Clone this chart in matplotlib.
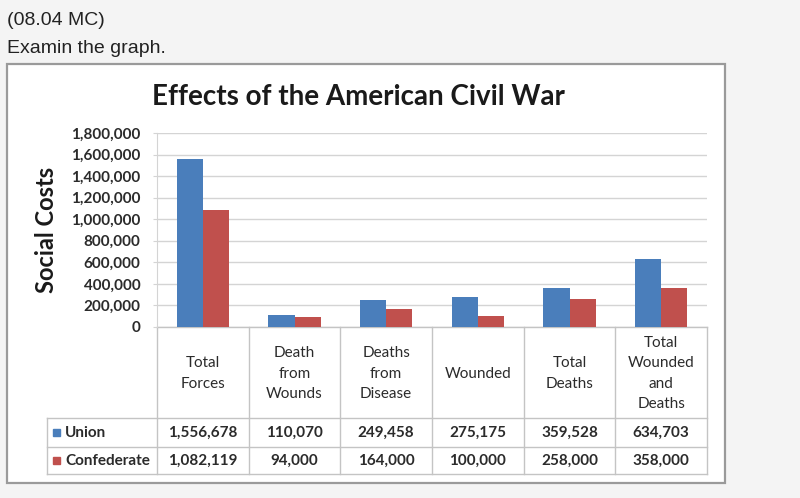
import matplotlib.pyplot as plt
from matplotlib.patches import Rectangle

categories = ["Total\nForces", "Death\nfrom\nWounds", "Deaths\nfrom\nDisease",
              "Wounded", "Total\nDeaths", "Total\nWounded\nand\nDeaths"]
union = [1556678, 110070, 249458, 275175, 359528, 634703]
confederate = [1082119, 94000, 164000, 100000, 258000, 358000]
series_names = ["Union", "Confederate"]
yticks = list(range(0, 1800001, 200000))

blue = "#4a7ebb"
red = "#c0504d"
grid_c = "#d4d4d4"
text_c = "#2b2b2b"
chart_font = ["Lato", "DejaVu Sans"]

W, H = 800, 498
fig = plt.figure(figsize=(W / 100, H / 100), dpi=100, facecolor="#f4f4f4")

# pixel-coordinate layer for frame, texts and table
bg = fig.add_axes([0, 0, 1, 1])
bg.set_xlim(0, W)
bg.set_ylim(H, 0)
bg.axis("off")

bg.text(7, 20, "(08.04 MC)", fontsize=14, family="Liberation Sans", color="#222", va="center")
bg.text(7, 48, "Examin the graph.", fontsize=14, family="Liberation Sans", color="#222", va="center")
bg.add_patch(Rectangle((7, 64), 718, 419, facecolor="white", edgecolor="#9a9a9a", lw=1.6))

bg.text(358, 97, "Effects of the American Civil War", fontsize=20, fontweight="bold",
        family=chart_font, color="#1a1a1a", ha="center", va="center")
bg.text(46, 230, "Social Costs", fontsize=17, fontweight="bold", family=chart_font,
        color="#1a1a1a", rotation=90, ha="center", va="center")

# plot area
x0, x1, ytop, ybot = 157, 707, 133, 327
ax = fig.add_axes([x0 / W, (H - ybot) / H, (x1 - x0) / W, (ybot - ytop) / H])
ax.patch.set_alpha(0)
n = len(categories)
idx = list(range(n))
bw = 0.284
ax.bar([i - bw / 2 for i in idx], union, width=bw, color=blue, zorder=3)
ax.bar([i + bw / 2 for i in idx], confederate, width=bw, color=red, zorder=3)
ax.set_xlim(-0.5, n - 0.5)
ax.set_ylim(0, 1800000)
ax.set_yticks(yticks)
ax.set_yticklabels([f"{v:,}" for v in yticks], family=chart_font, fontsize=11,
                   fontweight="bold", color=text_c)
ax.set_xticks([])
ax.yaxis.grid(True, color=grid_c, lw=1, zorder=0)
for s in ["top", "right", "bottom"]:
    ax.spines[s].set_visible(False)
ax.spines["left"].set_color(grid_c)
ax.tick_params(axis="y", length=3, color=grid_c, pad=9)

# data table
line_c = "#c4c4c4"
colw = (x1 - x0) / n
rows_y = [327, 418, 447, 474]
legend_x = 47
bg.plot([x0, x1], [rows_y[0], rows_y[0]], color=line_c, lw=1)
for y in rows_y[1:]:
    bg.plot([legend_x, x1], [y, y], color=line_c, lw=1)
bg.plot([legend_x, legend_x], [rows_y[1], rows_y[3]], color=line_c, lw=1)
for k in range(n + 1):
    xk = x0 + k * colw
    bg.plot([xk, xk], [rows_y[0], rows_y[3]], color=line_c, lw=1)

for i, cat in enumerate(categories):
    cx = x0 + (i + 0.5) * colw
    bg.text(cx, (rows_y[0] + rows_y[1]) / 2 + 1, cat, ha="center", va="center",
            fontsize=11, family=chart_font, color=text_c, linespacing=1.55)
    bg.text(cx, (rows_y[1] + rows_y[2]) / 2, f"{union[i]:,}", ha="center", va="center",
            fontsize=11, fontweight="bold", family=chart_font, color=text_c)
    bg.text(cx, (rows_y[2] + rows_y[3]) / 2, f"{confederate[i]:,}", ha="center", va="center",
            fontsize=11, fontweight="bold", family=chart_font, color=text_c)

for r, (name, col) in enumerate(zip(series_names, [blue, red])):
    ym = (rows_y[1 + r] + rows_y[2 + r]) / 2
    bg.add_patch(Rectangle((53, ym - 4), 7, 7, color=col))
    bg.text(65, ym, name, ha="left", va="center", fontsize=11, fontweight="bold",
            family=chart_font, color=text_c)

fig.savefig("out.png", dpi=100, facecolor=fig.get_facecolor())
